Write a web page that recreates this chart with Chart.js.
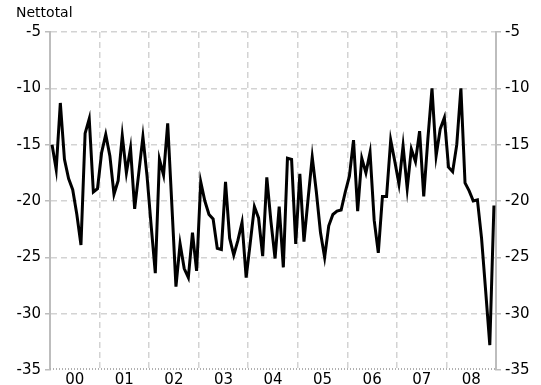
<!DOCTYPE html>
<html>
<head>
<meta charset="utf-8">
<script src="https://cdn.jsdelivr.net/npm/chart.js@4/dist/chart.umd.min.js"></script>
<style>
  html, body { margin: 0; padding: 0; background: #fff; }
  #c { display: block; }
</style>
</head>
<body>
<canvas id="c" width="541" height="385"></canvas>
<script>
// monthly net totals, one array per year (Jan..Dec)
var y2000 = [-15.0, -17.2, -11.3, -16.3, -18.0, -19.0, -21.2, -23.9, -14.0, -12.7, -19.2, -18.9];
var y2001 = [-15.7, -14.1, -16.0, -19.4, -18.2, -14.2, -17.5, -15.3, -20.7, -17.5, -14.3, -17.8];
var y2002 = [-22.2, -26.4, -16.3, -17.7, -13.1, -20.3, -27.6, -23.8, -26.0, -26.8, -22.8, -26.2];
var y2003 = [-18.3, -20.0, -21.2, -21.6, -24.2, -24.3, -18.3, -23.3, -24.8, -23.5, -21.9, -26.8];
var y2004 = [-23.7, -20.5, -21.5, -24.9, -17.9, -21.8, -25.1, -20.5, -25.9, -16.2, -16.3, -23.8];
var y2005 = [-17.6, -23.6, -19.8, -16.1, -19.2, -22.8, -25.0, -22.2, -21.2, -20.9, -20.8, -19.2];
var y2006 = [-17.8, -14.6, -20.9, -16.2, -17.5, -15.7, -21.7, -24.6, -19.6, -19.6, -14.6, -16.5];
var y2007 = [-18.5, -15.1, -18.9, -15.4, -16.5, -13.8, -19.6, -14.5, -10.0, -16.0, -13.6, -12.6];
var y2008 = [-17.0, -17.4, -15.0, -10.0, -18.4, -19.1, -20.0, -19.9, -23.3, -28.0, -32.8, -20.4];

var yearLabels = ['00', '01', '02', '03', '04', '05', '06', '07', '08'];
var yTicks = [-35, -30, -25, -20, -15, -10, -5];
var seriesName = 'Nettotal';

var allYears = [y2000, y2001, y2002, y2003, y2004, y2005, y2006, y2007, y2008];
var points = [];
allYears.forEach(function (yr, k) {
  yr.forEach(function (v, m) {
    points.push({ x: k * 12 + m, y: v });
  });
});
var nMonths = points.length;

// year boundaries sit half a month before each January
var yearEdges = [];
for (var k = 0; k <= yearLabels.length; k++) yearEdges.push(k * 12 - 0.5);

var gridCol = '#d3d3d3';
var axisCol = '#bdbdbd';

Chart.defaults.font.family = 'DejaVu Sans';
Chart.defaults.font.size = 15;
Chart.defaults.color = '#000';

// title over the left axis + dotted baseline
var extras = {
  id: 'extras',
  afterDraw: function (chart) {
    var ctx = chart.ctx, a = chart.chartArea;
    ctx.save();
    ctx.strokeStyle = '#b0b0b0';
    ctx.lineWidth = 2;
    ctx.setLineDash([1, 2]);
    ctx.beginPath();
    ctx.moveTo(a.left, a.bottom - 1);
    ctx.lineTo(a.right, a.bottom - 1);
    ctx.stroke();
    ctx.restore();

    ctx.save();
    ctx.font = '14px "DejaVu Sans"';
    ctx.fillStyle = '#000';
    ctx.textBaseline = 'middle';
    ctx.textAlign = 'left';
    ctx.fillText(seriesName, 16, 13);
    ctx.restore();
  }
};

function yAxis(pos, w) {
  return {
    type: 'linear',
    position: pos,
    min: -35,
    max: -5,
    afterBuildTicks: function (s) { s.ticks = yTicks.map(function (v) { return { value: v }; }); },
    afterFit: function (s) { s.width = w; },
    grid: {
      drawOnChartArea: pos === 'left',
      color: function (c) { return c.tick && c.tick.value === -35 ? 'rgba(0,0,0,0)' : gridCol; },
      lineWidth: 1.5,
      tickLength: 5,
      tickColor: axisCol
    },
    border: { display: true, color: axisCol, width: 2, dash: [6, 4] },
    ticks: { padding: 4 }
  };
}

new Chart(document.getElementById('c'), {
  type: 'line',
  data: {
    datasets: [{
      label: seriesName,
      data: points,
      borderColor: '#000',
      borderWidth: 3,
      pointRadius: 0,
      tension: 0,
      fill: false
    }]
  },
  options: {
    responsive: false,
    animation: false,
    devicePixelRatio: 1,
    layout: { padding: { top: 32, left: 0, right: 0, bottom: 0 } },
    plugins: { legend: { display: false }, tooltip: { enabled: false } },
    scales: {
      x: {
        type: 'linear',
        min: -0.5,
        max: nMonths - 0.5,
        afterBuildTicks: function (s) { s.ticks = yearEdges.map(function (v) { return { value: v }; }); },
        afterFit: function (s) { s.height = 15; },
        grid: {
          drawTicks: false,
          color: gridCol,
          lineWidth: 1.5
        },
        border: { display: false, dash: [6, 4] },
        ticks: {
          padding: 1,
          maxRotation: 0,
          autoSkip: false,
          labelOffset: 24.8,
          callback: function (v, i) { return yearLabels[i] || ''; }
        }
      },
      y: yAxis('left', 50),
      y2: yAxis('right', 45)
    }
  },
  plugins: [extras]
});
</script>
</body>
</html>
